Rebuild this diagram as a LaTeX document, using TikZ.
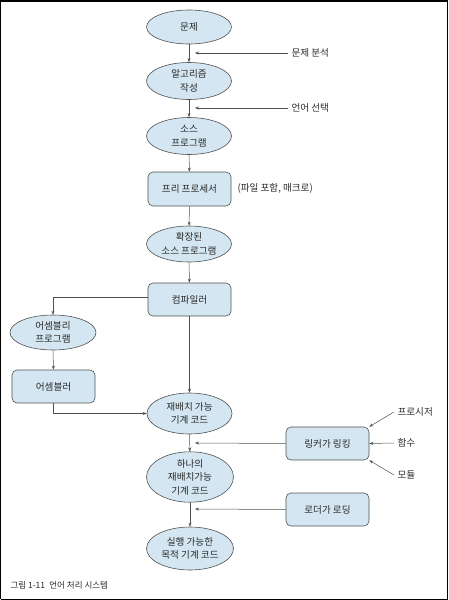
\documentclass[tikz,border=0pt]{standalone}
\usepackage{fontspec}
\usepackage{tikz}
\usepackage{xcolor}
\usetikzlibrary{shapes.geometric,arrows.meta}
\newfontfamily\kr{Noto Sans CJK KR}
\definecolor{boxblue}{HTML}{D4E6F1}
\definecolor{edgegray}{HTML}{505050}
\definecolor{txtgray}{HTML}{2A2A2A}

\begin{document}
\begin{tikzpicture}[x=1pt,y=-1pt,
  every node/.style={font=\kr\fontsize{9.6}{13.5}\selectfont,text=txtgray,align=center},
  oval/.style={ellipse,draw=edgegray,fill=boxblue,line width=0.6pt,minimum width=85pt,minimum height=37pt,inner sep=0pt},
  stepbox/.style={rectangle,rounded corners=5pt,draw=edgegray,fill=boxblue,line width=0.6pt,minimum width=83pt,minimum height=33pt},
  arr/.style={draw=edgegray,line width=0.5pt,-{Stealth[length=4pt,width=3pt]}}]
\useasboundingbox (0,0) rectangle (448,600);
\draw[line width=1pt] (0.5,599) -- (0.5,0.5) -- (447,0.5) -- (447,599) -- (0.5,599);
\draw[line width=1.5pt] (0,0.75) -- (448,0.75);

\node[oval,minimum height=34pt] (prob) at (189,27) {문제};
\node[oval] (algo) at (189,81) {알고리즘\\작성};
\node[oval] (src) at (189,136) {소스\\프로그램};
\node[stepbox,minimum height=34pt] (pre) at (189.5,189) {프리 프로세서};
\node[oval,minimum height=36pt] (ext) at (189,244) {확장된\\소스 프로그램};
\node[stepbox] (comp) at (189.5,299.5) {컴파일러};
\node[oval,minimum width=86pt,minimum height=35pt] (asmprog) at (53,332.5) {어셈블리\\프로그램};
\node[stepbox] (asm) at (53.5,386.5) {어셈블러};
\node[oval,minimum height=41pt] (reloc) at (189.5,413.5) {재배치 가능\\기계 코드};
\node[oval,minimum height=40pt,minimum width=87pt] (one) at (190,477) {하나의\\재배치가능\\기계 코드};
\node[oval,minimum height=43pt,minimum width=87pt] (exe) at (190,548.5) {실행 가능한\\목적 기계 코드};
\node[stepbox] (link) at (327.5,443.5) {링커가 링킹};
\node[stepbox] (load) at (327.5,509.5) {로더가 로딩};

\node[anchor=west] (analysis) at (288,53) {문제 분석};
\node[anchor=west] (lang) at (288,108) {언어 선택};
\node[anchor=west] (incl) at (234,188) {(파일 포함, 매크로)};
\node[anchor=west] (proc) at (394,412) {프로시저};
\node[anchor=west] (func) at (394,443) {함수};
\node[anchor=west] (mod) at (394,475) {모듈};

\coordinate (c1) at (195,53);
\coordinate (c2) at (195,108);
\coordinate (c3) at (195,443);
\coordinate (c4) at (195,509);

\draw[arr] (prob) -- (algo);
\draw[arr] (algo) -- (src);
\draw[arr] (src) -- (pre);
\draw[arr] (pre) -- (ext);
\draw[arr] (ext) -- (comp);
\draw[arr] (comp.south) -- (reloc.north);
\draw[arr] (comp.west |- 0,297) -| (asmprog.north);
\draw[arr] (asmprog) -- (asm);
\draw[arr] (asm.south) |- (reloc.west);
\draw[arr] (reloc) -- (one);
\draw[arr] (one) -- (exe);
\draw[arr] (analysis.west) -- (c1);
\draw[arr] (lang.west) -- (c2);
\draw[arr] (link.west) -- (c3);
\draw[arr] (load.west) -- (c4);
\draw[arr] (proc.west) -- (link.north east);
\draw[arr] (func.west) -- (link.east);
\draw[arr] (mod.west) -- (link.south east);

\node[anchor=west,font=\kr\fontsize{8.5}{10}\selectfont] (cap) at (7,585) {그림 1-11\enspace 언어 처리 시스템};
\end{tikzpicture}
\end{document}
